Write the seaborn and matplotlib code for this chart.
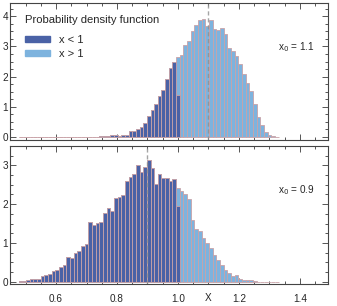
import numpy as np
import pandas as pd
import matplotlib
matplotlib.use("Agg")
import matplotlib.pyplot as plt
from matplotlib.patches import Patch
from matplotlib.ticker import MultipleLocator
import seaborn as sns

sns.set_style("ticks")
plt.rcParams['font.family'] = ['Liberation Sans', 'DejaVu Sans']

# bins of width 0.012 starting at 0.478 (71 bins)
bin_start = 0.478
bin_width = 0.012

# top panel (x0 = 1.1): x < 1 part, bins 0..43
top_lo = [0, 0, 0, 0, 0, 0, 0, 0, 0, 0, 0, 0, 0, 0, 0, 0, 0, 0,
          0.01, 0.0, 0.01, 0.01, 0.02, 0.02, 0.03, 0.06, 0.06, 0.04, 0.05,
          0.08, 0.2, 0.2, 0.27, 0.33, 0.46, 0.71, 0.9, 1.09, 1.36, 1.56,
          1.93, 2.3, 2.5, 1.38]
# top panel: x > 1 part, bins 43..70
top_hi = [1.27, 2.72, 3.05, 3.18, 3.52, 3.72, 3.87, 3.9, 3.68, 3.88,
          3.57, 3.55, 3.6, 3.41, 2.95, 2.86, 2.7, 2.42, 2.09, 1.78,
          1.54, 1.1, 0.67, 0.4, 0.18, 0.07, 0.03, 0.01]

# bottom panel (x0 = 0.9): x < 1 part, bins 0..43
bot_lo = [0.01, 0.02, 0.04, 0.08, 0.07, 0.07, 0.15, 0.17, 0.2, 0.28,
          0.3, 0.38, 0.42, 0.64, 0.6, 0.74, 0.8, 0.93, 0.98, 1.55,
          1.46, 1.52, 1.55, 1.76, 1.89, 1.82, 2.17, 2.19, 2.24, 2.6,
          2.71, 2.78, 3.0, 2.83, 2.95, 3.15, 2.94, 2.52, 2.79, 2.68,
          2.68, 2.6, 2.64, 1.95]
# bottom panel: x > 1 part, bins 43..64
bot_hi = [0.47, 2.34, 2.25, 2.12, 1.6, 1.35, 1.3, 1.12, 1.0, 0.88,
          0.7, 0.56, 0.42, 0.3, 0.23, 0.15, 0.17, 0.07, 0.04, 0.04,
          0.04, 0.02]

x0_values = [1.1, 0.9]
y_limits = [(-0.1, 4.44), (-0.06, 3.5)]
y_max_tick = [4, 3]

dark = '#4a62a6'
light = '#7db3de'
edge = '#c9a3a8'

fig = plt.figure(figsize=(3.37, 3.06), dpi=100)
ax_top = fig.add_axes([0.0297, 0.5425, 0.9433, 0.4477])
ax_bot = fig.add_axes([0.0297, 0.0719, 0.9433, 0.4510])

n_bins = 71
centers = bin_start + bin_width * (np.arange(n_bins) + 0.5)

for ax, lo, hi, x0, ylim, ymt in zip([ax_top, ax_bot], [top_lo, bot_lo],
                                     [top_hi, bot_hi], x0_values, y_limits, y_max_tick):
    lo_full = np.zeros(n_bins)
    lo_full[:len(lo)] = lo
    hi_full = np.zeros(n_bins)
    hi_full[43:43 + len(hi)] = hi
    df = pd.DataFrame({'x': centers, 'lo': lo_full, 'total': lo_full + hi_full})

    # light (x > 1) stacked on top of dark (x < 1)
    sns.histplot(data=df, x='x', weights='total', bins=n_bins,
                 binrange=(bin_start, bin_start + n_bins * bin_width), ax=ax,
                 color=light, alpha=1, edgecolor=edge, linewidth=0.6)
    sns.histplot(data=df.iloc[:len(lo)], x='x', weights='lo', bins=len(lo),
                 binrange=(bin_start, bin_start + len(lo) * bin_width), ax=ax,
                 color=dark, alpha=1, edgecolor=edge, linewidth=0.6)

    ax.axvline(x0, color='#8f8f8f', lw=1.0, ls=(0, (3, 2)), alpha=0.8, zorder=5)

    ax.set_xlim(0.449, 1.492)
    ax.set_ylim(*ylim)
    ax.set_xlabel('')
    ax.set_ylabel('')
    ax.xaxis.set_major_locator(MultipleLocator(0.2))
    ax.xaxis.set_minor_locator(MultipleLocator(0.05))
    ax.set_yticks(range(ymt + 1))
    ax.yaxis.set_minor_locator(MultipleLocator(0.25))
    ax.tick_params(which='both', direction='in', top=True, right=True,
                   color='#555555', width=0.7, labelsize=7.2, pad=1.3)
    ax.tick_params(which='major', length=4)
    ax.tick_params(which='minor', length=2)
    for s in ax.spines.values():
        s.set_color('#444444')
        s.set_linewidth(0.8)

    ax.text(0.90, 0.68, r'x$_0$ = %s' % x0, transform=ax.transAxes,
            ha='center', va='center', fontsize=7.2)

ax_top.tick_params(labelbottom=False)
ax_bot.tick_params(axis='x', pad=7)
ax_bot.text(1.1, -0.065, 'X', transform=ax_bot.get_xaxis_transform(),
            ha='center', va='top', fontsize=7.2)

handles = [Patch(facecolor=dark, edgecolor=dark), Patch(facecolor=light, edgecolor=light)]
leg = ax_top.legend(handles, ['x < 1', 'x > 1'], title='Probability density function',
                    loc='upper left', bbox_to_anchor=(0.034, 0.945), frameon=False,
                    fontsize=8, title_fontsize=8.1, handlelength=2.2, handleheight=0.5,
                    labelspacing=0.4, alignment='left', borderaxespad=0)
# a bit more room between the title and the entries
leg._legend_box.sep = 7

fig.savefig('out.png', dpi=100)
